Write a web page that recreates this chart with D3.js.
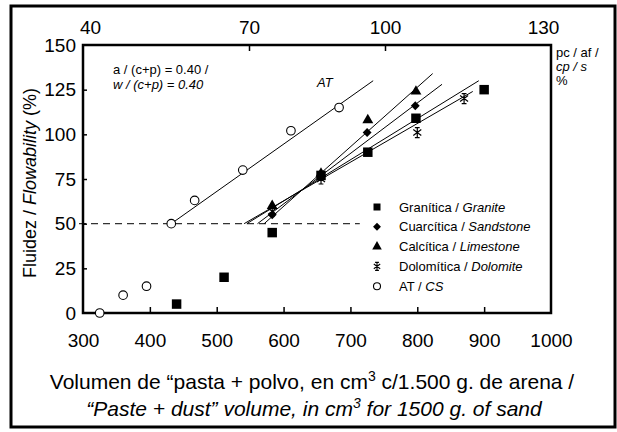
<!DOCTYPE html>
<html>
<head>
<meta charset="utf-8">
<script src="https://cdn.jsdelivr.net/npm/d3@7"></script>
<style>
  body { margin: 0; background: #fff; }
  svg { font-family: "Liberation Sans", Arial, sans-serif; }
</style>
</head>
<body>
<div id="chart"></div>
<script>
const width = 617;
const height = 432;
const margin = { top: 45, right: 66, bottom: 119, left: 83 };

// bottom / left / top tick values
const xTicks = [300, 400, 500, 600, 700, 800, 900, 1000];
const yTicks = [0, 25, 50, 75, 100, 125, 150];
const topTicks = [40, 70, 100, 130];

// series: [paste + dust volume, flowability]
const granite = [[440, 5], [511, 20], [583, 45], [656, 77], [726, 90], [798, 109], [900, 125]];
const sandstone = [[583, 55], [656, 77], [725, 101], [797, 116]];
const limestone = [[583, 60], [656, 78], [726, 108], [798, 124]];
const dolomite = [[583, 57], [656, 75], [800, 101], [870, 120]];
const cs = [[325, 0], [360, 10], [395, 15], [432, 50], [467, 63], [539, 80], [611, 102], [683, 115]];

// fitted lines: [x1, y1, x2, y2]
const fitAT = [432, 50, 734, 130];
const fitLimestone = [571, 50, 823, 134];
const fitSandstone = [561, 50, 837, 128];
const fitGranite = [545, 50, 892, 130];
const fitDolomite = [541, 50, 883, 124];

const legendNames = [
  ["Granítica / ", "Granite"],
  ["Cuarcítica / ", "Sandstone"],
  ["Calcítica / ", "Limestone"],
  ["Dolomítica / ", "Dolomite"],
  ["AT / ", "CS"]
];

const svg = d3.select("#chart")
  .append("svg")
  .attr("width", width)
  .attr("height", height);

const x = d3.scaleLinear()
  .domain([300, 1000])
  .range([margin.left, width - margin.right]);

const y = d3.scaleLinear()
  .domain([0, 150])
  .range([height - margin.bottom, margin.top]);

// top scale (pc / af %), labels are not evenly spread
const xTop = d3.scaleLinear()
  .domain(topTicks)
  .range([90, 249, 385, 543]);

// outer frame
svg.append("rect")
  .attr("x", 11)
  .attr("y", 6)
  .attr("width", 604)
  .attr("height", 421)
  .attr("fill", "none")
  .attr("stroke", "#000")
  .attr("stroke-width", 3);

// dashed line at 50 %
svg.append("line")
  .attr("x1", x(300) - 4)
  .attr("x2", x(714))
  .attr("y1", y(50))
  .attr("y2", y(50))
  .attr("stroke", "#333")
  .attr("stroke-width", 1.2)
  .attr("stroke-dasharray", "7,5");

// fit lines
[fitAT, fitLimestone, fitSandstone, fitGranite, fitDolomite].forEach(f => {
  svg.append("line")
    .attr("x1", x(f[0]))
    .attr("y1", y(f[1]))
    .attr("x2", x(f[2]))
    .attr("y2", y(f[3]))
    .attr("stroke", "#000")
    .attr("stroke-width", 1);
});

// X axis
const xAxis = svg.append("g")
  .attr("transform", `translate(0, ${y(0)})`)
  .call(d3.axisBottom(x).tickValues(xTicks).tickFormat(d3.format("d"))
    .tickSizeInner(-6).tickSizeOuter(0).tickPadding(21));

// Y axis
const yAxis = svg.append("g")
  .attr("transform", `translate(${x(300)},0)`)
  .call(d3.axisLeft(y).tickValues(yTicks).tickSizeInner(-4).tickSizeOuter(0).tickPadding(7));

// top axis
const topAxis = svg.append("g")
  .attr("transform", `translate(0, ${y(150)})`)
  .call(d3.axisTop(xTop).tickValues(topTicks).tickSizeInner(-6).tickSizeOuter(0).tickPadding(11));

topAxis.selectAll(".tick line").filter(d => d === 40 || d === 130).remove();
yAxis.selectAll(".tick line").filter(d => d === 0 || d === 150).remove();
xAxis.selectAll(".tick line").filter(d => d === 300 || d === 1000).remove();

[xAxis, yAxis, topAxis].forEach(g => {
  g.select(".domain").remove();
  g.selectAll(".tick line").attr("stroke", "#000").attr("stroke-width", 1.5);
  g.selectAll("text").attr("font-size", 19).attr("fill", "#000")
    .attr("font-family", "Liberation Sans, Arial, sans-serif");
});

// plot border
svg.append("rect")
  .attr("x", x(300))
  .attr("y", y(150))
  .attr("width", x(1000) - x(300))
  .attr("height", y(0) - y(150))
  .attr("fill", "none")
  .attr("stroke", "#000")
  .attr("stroke-width", 2.5);

// markers
const asterisk = r => {
  const d = r * 0.8;
  return `M0,${-r}L0,${r}M${-d},${-d * 0.75}L${d},${d * 0.75}M${-d},${d * 0.75}L${d},${-d * 0.75}` +
    `M${-d * 0.6},${-r}L${d * 0.6},${-r}M${-d * 0.6},${r}L${d * 0.6},${r}`;
};
const sym = (type, size) => d3.symbol().type(type).size(size)();

function drawPoints(data, kind) {
  const g = svg.append("g");
  data.forEach(d => {
    const t = `translate(${x(d[0])},${y(d[1])})`;
    if (kind === "square") g.append("path").attr("d", sym(d3.symbolSquare, 90)).attr("transform", t).attr("fill", "#000");
    if (kind === "diamond") g.append("path").attr("d", sym(d3.symbolDiamond2, 50)).attr("transform", t).attr("fill", "#000");
    if (kind === "triangle") g.append("path").attr("d", sym(d3.symbolTriangle, 52)).attr("transform", t).attr("fill", "#000");
    if (kind === "asterisk") g.append("path").attr("d", asterisk(5)).attr("transform", t).attr("stroke", "#000").attr("stroke-width", 1.2).attr("fill", "none");
    if (kind === "circle") g.append("circle").attr("cx", x(d[0])).attr("cy", y(d[1])).attr("r", 4.3)
      .attr("fill", "#fff").attr("stroke", "#000").attr("stroke-width", 1.1);
  });
}
drawPoints(cs, "circle");
drawPoints(dolomite, "asterisk");
drawPoints(sandstone, "diamond");
drawPoints(limestone, "triangle");
drawPoints(granite, "square");

// legend
const kinds = ["square", "diamond", "triangle", "asterisk", "circle"];
const legend = svg.append("g").attr("font-size", 13);
legendNames.forEach((n, i) => {
  const cy = 207 + i * 19.8;
  const mx = 377;
  const t = `translate(${mx},${cy})`;
  if (kinds[i] === "square") legend.append("path").attr("d", sym(d3.symbolSquare, 49)).attr("transform", t);
  if (kinds[i] === "diamond") legend.append("path").attr("d", sym(d3.symbolDiamond2, 40)).attr("transform", t);
  if (kinds[i] === "triangle") legend.append("path").attr("d", sym(d3.symbolTriangle, 40)).attr("transform", t);
  if (kinds[i] === "asterisk") legend.append("path").attr("d", asterisk(4)).attr("transform", t)
    .attr("stroke", "#000").attr("stroke-width", 1.1).attr("fill", "none");
  if (kinds[i] === "circle") legend.append("circle").attr("cx", mx).attr("cy", cy).attr("r", 3.5)
    .attr("fill", "#fff").attr("stroke", "#000").attr("stroke-width", 1.1);
  const txt = legend.append("text").attr("x", 399).attr("y", cy + 4.5);
  txt.append("tspan").text(n[0]);
  txt.append("tspan").attr("font-style", "italic").text(n[1]);
});

// annotations
svg.append("text").attr("x", 113).attr("y", 74).attr("font-size", 13).text("a / (c+p) = 0.40 /");
svg.append("text").attr("x", 113).attr("y", 89).attr("font-size", 13).attr("font-style", "italic").text("w / (c+p) = 0.40");
svg.append("text").attr("x", 317).attr("y", 87).attr("font-size", 13).attr("font-style", "italic").text("AT");

// right side unit label
svg.append("text").attr("x", 556).attr("y", 57).attr("font-size", 13).text("pc / af /");
svg.append("text").attr("x", 556).attr("y", 71).attr("font-size", 13).attr("font-style", "italic").text("cp / s");
svg.append("text").attr("x", 556).attr("y", 85).attr("font-size", 13).text("%");

// Y axis label
const yLab = svg.append("text")
  .attr("transform", "rotate(-90)")
  .attr("x", -183)
  .attr("y", 36)
  .attr("text-anchor", "middle")
  .attr("font-size", 18);
yLab.append("tspan").text("Fluidez / ");
yLab.append("tspan").attr("font-style", "italic").text("Flowability");
yLab.append("tspan").text(" (%)");

// X axis label
const xLab1 = svg.append("text")
  .attr("x", 312)
  .attr("y", 389)
  .attr("text-anchor", "middle")
  .attr("font-size", 21);
xLab1.append("tspan").text("Volumen de “pasta + polvo, en cm");
xLab1.append("tspan").attr("font-size", 14).attr("dy", -8).text("3");
xLab1.append("tspan").attr("dy", 8).text(" c/1.500 g. de arena /");

const xLab2 = svg.append("text")
  .attr("x", 314)
  .attr("y", 416)
  .attr("text-anchor", "middle")
  .attr("font-size", 21)
  .attr("font-style", "italic");
xLab2.append("tspan").text("“Paste + dust” volume, in cm");
xLab2.append("tspan").attr("font-size", 14).attr("dy", -8).text("3");
xLab2.append("tspan").attr("dy", 8).text(" for 1500 g. of sand");
</script>
</body>
</html>
